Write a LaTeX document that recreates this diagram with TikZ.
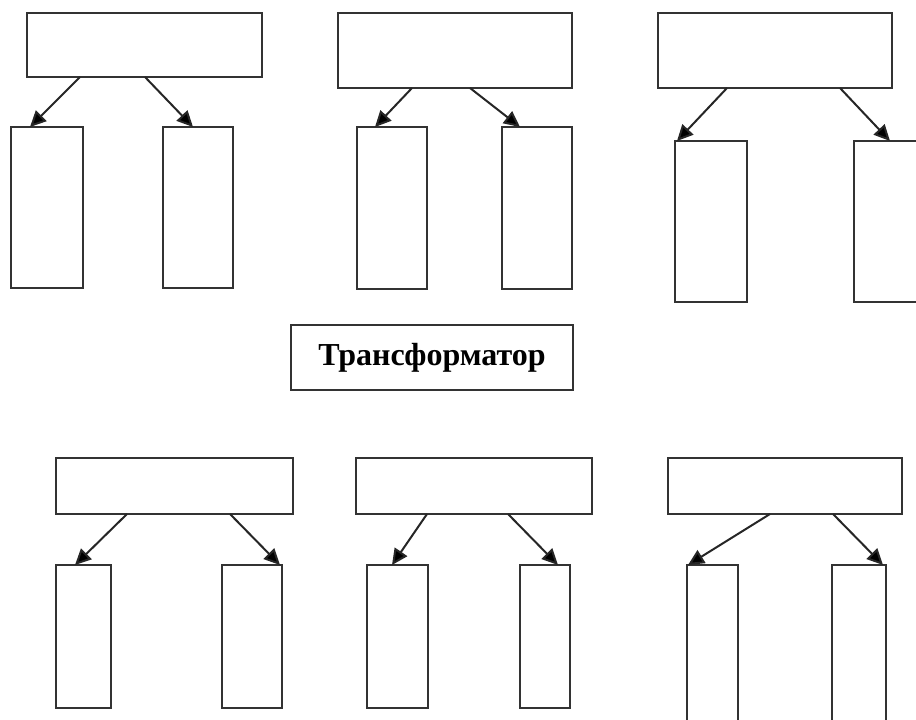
\documentclass[tikz,border=0pt]{standalone}
\usepackage{fontspec}
\setmainfont{Liberation Serif}
\usetikzlibrary{arrows.meta}
\tikzset{
  box/.style={draw=black!80, line width=1.8pt, inner sep=0pt, outer sep=0pt, anchor=north west, fill=white},
  arr/.style={draw=black!85, line width=2pt, -{Triangle[length=16pt,width=15pt,fill=black]}},
}
\begin{document}
\begin{tikzpicture}[x=1pt,y=-1pt]
\useasboundingbox (0,0) rectangle (916,720);
\clip (0,0) rectangle (916,720);
% group 1
\node[box, minimum width=235pt, minimum height=64pt] (t1) at (27,13) {};
\node[box, minimum width=72pt, minimum height=161pt] (c1a) at (11,127) {};
\node[box, minimum width=70pt, minimum height=161pt] (c1b) at (163,127) {};
\draw[arr] ([xshift=53pt]t1.south west) -- ([xshift=19pt]c1a.north west);
\draw[arr] ([xshift=118pt]t1.south west) -- ([xshift=30pt]c1b.north west);
% group 2
\node[box, minimum width=234pt, minimum height=75pt] (t2) at (338,13) {};
\node[box, minimum width=70pt, minimum height=162pt] (c2a) at (357,127) {};
\node[box, minimum width=70pt, minimum height=162pt] (c2b) at (502,127) {};
\draw[arr] ([xshift=74pt]t2.south west) -- ([xshift=18pt]c2a.north west);
\draw[arr] ([xshift=132pt]t2.south west) -- ([xshift=18pt]c2b.north west);
% group 3
\node[box, minimum width=234pt, minimum height=75pt] (t3) at (658,13) {};
\node[box, minimum width=72pt, minimum height=161pt] (c3a) at (675,141) {};
\node[box, minimum width=80pt, minimum height=161pt] (c3b) at (854,141) {};
\draw[arr] ([xshift=69pt]t3.south west) -- ([xshift=2pt]c3a.north west);
\draw[arr] ([xshift=182pt]t3.south west) -- ([xshift=36pt]c3b.north west);
% transformer
\node[box, minimum width=282pt, minimum height=65pt, font=\bfseries\fontsize{32}{38}\selectfont] (tr) at (291,325) {Трансформатор};
% group 4
\node[box, minimum width=237pt, minimum height=56pt] (t4) at (56,458) {};
\node[box, minimum width=55pt, minimum height=143pt] (c4a) at (56,565) {};
\node[box, minimum width=60pt, minimum height=143pt] (c4b) at (222,565) {};
\draw[arr] ([xshift=71pt]t4.south west) -- ([xshift=19pt]c4a.north west);
\draw[arr] ([xshift=174pt]t4.south west) -- ([xshift=58pt]c4b.north west);
% group 5
\node[box, minimum width=236pt, minimum height=56pt] (t5) at (356,458) {};
\node[box, minimum width=61pt, minimum height=143pt] (c5a) at (367,565) {};
\node[box, minimum width=50pt, minimum height=143pt] (c5b) at (520,565) {};
\draw[arr] ([xshift=71pt]t5.south west) -- ([xshift=25pt]c5a.north west);
\draw[arr] ([xshift=152pt]t5.south west) -- ([xshift=38pt]c5b.north west);
% group 6
\node[box, minimum width=234pt, minimum height=56pt] (t6) at (668,458) {};
\node[box, minimum width=51pt, minimum height=170pt] (c6a) at (687,565) {};
\node[box, minimum width=54pt, minimum height=170pt] (c6b) at (832,565) {};
\draw[arr] ([xshift=102pt]t6.south west) -- ([xshift=1pt]c6a.north west);
\draw[arr] ([xshift=165pt]t6.south west) -- ([xshift=51pt]c6b.north west);
\end{tikzpicture}
\end{document}
